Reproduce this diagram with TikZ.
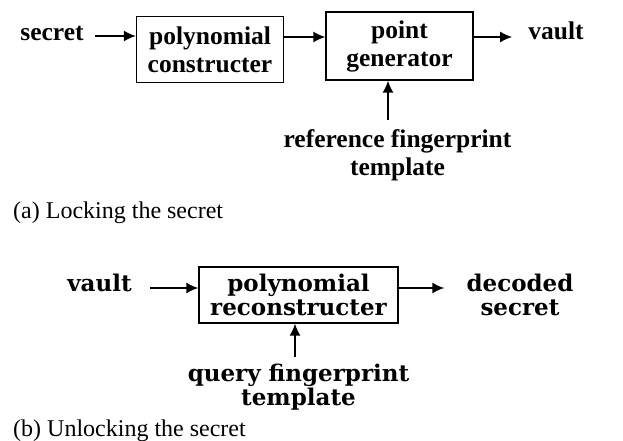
\documentclass[tikz,border=0pt]{standalone}
\usepackage{fontspec}
\setmainfont{Liberation Serif}
\newfontfamily\wideb{DejaVu Serif}
\usetikzlibrary{arrows.meta}
\begin{document}
\begin{tikzpicture}[x=1pt,y=1pt,
  box/.style={draw, line width=1.2pt, inner sep=0pt, align=center},
  topfont/.style={font=\fontsize{25.5}{28}\selectfont\bfseries},
  botfont/.style={font=\wideb\fontsize{23}{24}\selectfont\bfseries},
  lbl/.style={inner sep=0pt, align=center},
  arr/.style={line width=1.8pt, -{Latex[length=12pt,width=11pt]}},
  captext/.style={font=\fontsize{24}{28}\selectfont, inner sep=0pt, anchor=base west}]
\useasboundingbox (0,0) rectangle (623,440);
% ---- (a) ----
\node[box, topfont, minimum width=147pt, minimum height=66pt] (poly) at (210,390.5) {polynomial\\constructer};
\node[box, topfont, minimum width=147pt, minimum height=68pt] (gen) at (399.5,394) {point\\generator};
\node[lbl, topfont, anchor=base] (sec) at (52,399) {secret};
\node[lbl, topfont, anchor=base] (vaulta) at (556,400) {vault};
\node[lbl, topfont, anchor=north] (ref) at (397.5,311) {reference fingerprint\\template};
\coordinate (refarr) at (388,320);
\draw[arr, shorten <=11pt] (sec.east |- 0,404) -- (poly.west |- 0,404);
\draw[arr] (poly.east |- 0,403) -- (gen.west |- 0,403);
\draw[arr, shorten >=16pt] (gen.east |- 0,403) -- (vaulta.west |- 0,403);
\draw[arr] (refarr) -- (refarr |- gen.south);
\node[captext] (capa) at (13,222) {(a) Locking the secret};
% ---- (b) ----
\node[box, botfont, minimum width=199pt, minimum height=56pt] (recon) at (298.5,145) {polynomial\\reconstructer};
\node[lbl, botfont, anchor=base] (vaultb) at (99.5,149) {vault};
\node[lbl, botfont, anchor=north] (dec) at (520,166) {decoded\\secret};
\node[lbl, botfont, anchor=north, font=\wideb\fontsize{23}{21}\selectfont\bfseries] (query) at (298.5,76) {query fingerprint\\template};
\coordinate (qarr) at (295,83);
\draw[arr, shorten <=18pt] (vaultb.east |- 0,152) -- (recon.west |- 0,152);
\draw[arr, shorten >=22pt] (recon.east |- 0,152) -- (dec.west |- 0,152);
\draw[arr] (qarr) -- (qarr |- recon.south);
\node[captext] (capb) at (13,4) {(b) Unlocking the secret};
\end{tikzpicture}
\end{document}
